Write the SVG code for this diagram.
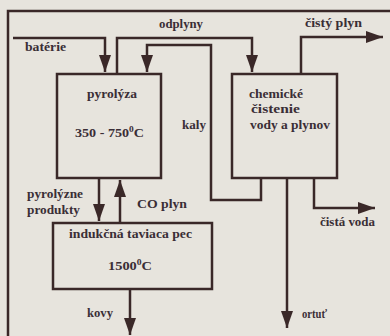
<svg xmlns="http://www.w3.org/2000/svg" width="390" height="336" viewBox="0 0 390 336">
<defs>
<marker id="ah" markerUnits="userSpaceOnUse" markerWidth="18" markerHeight="14" refX="17" refY="7" orient="auto">
<path d="M0,1 L17,7 L0,13 Z" fill="#3a2828"/>
</marker>
<style>
.ln{fill:none;stroke:#3a2828;stroke-width:2.5}
.bx{fill:none;stroke:#3a2828;stroke-width:2.5}
.t{font-family:"Liberation Serif","Times New Roman",serif;font-weight:bold;font-size:12px;fill:#3a2e36}
.sup{font-size:8px}
</style>
</defs>
<rect x="0" y="0" width="390" height="336" fill="#e7e4dd"/>
<g id="frame"><path class="ln" d="M8,336 V11 H390"/></g>
<g id="pyrolyza">
<rect class="bx" x="57" y="74" width="104" height="104"/>
<text class="t" x="87" y="98" textLength="50" lengthAdjust="spacingAndGlyphs">pyrolýza</text>
<text class="t" x="75" y="137" textLength="69" lengthAdjust="spacingAndGlyphs">350 - 750<tspan class="sup" dy="-5">0</tspan><tspan dy="5">C</tspan></text>
</g>
<g id="chemicke">
<rect class="bx" x="232" y="74" width="105" height="104"/>
<text class="t" x="249" y="98" textLength="54" lengthAdjust="spacingAndGlyphs">chemické</text>
<text class="t" x="251" y="113" textLength="49" lengthAdjust="spacingAndGlyphs">čistenie</text>
<text class="t" x="250" y="129" textLength="80" lengthAdjust="spacingAndGlyphs">vody a plynov</text>
</g>
<g id="indukcna">
<rect class="bx" x="53" y="223" width="159" height="66"/>
<text class="t" x="69" y="238" textLength="123" lengthAdjust="spacingAndGlyphs">indukčná taviaca pec</text>
<text class="t" x="108" y="270" textLength="44" lengthAdjust="spacingAndGlyphs">1500<tspan class="sup" dy="-5">0</tspan><tspan dy="5">C</tspan></text>
</g>
<g id="connectors">
<path class="ln" d="M13,38 H105 V72" marker-end="url(#ah)"/>
<path class="ln" d="M117,74 V38 H252 V72" marker-end="url(#ah)"/>
<path class="ln" d="M261,178 V200 H211 V45 H147 V72" marker-end="url(#ah)"/>
<path class="ln" d="M301,74 V37 H383" marker-end="url(#ah)"/>
<path class="ln" d="M314,178 V208 H375" marker-end="url(#ah)"/>
<path class="ln" d="M287,178 V328" marker-end="url(#ah)"/>
<path class="ln" d="M99,178 V221" marker-end="url(#ah)"/>
<path class="ln" d="M120,223 V180" marker-end="url(#ah)"/>
<path class="ln" d="M130,289 V335" marker-end="url(#ah)"/>
</g>
<g id="labels">
<text class="t" x="25" y="51" textLength="41" lengthAdjust="spacingAndGlyphs">batérie</text>
<text class="t" x="159" y="28" textLength="44" lengthAdjust="spacingAndGlyphs">odplyny</text>
<text class="t" x="182" y="129" textLength="24" lengthAdjust="spacingAndGlyphs">kaly</text>
<text class="t" x="305" y="27" textLength="57" lengthAdjust="spacingAndGlyphs">čistý plyn</text>
<text class="t" x="320" y="226" textLength="55" lengthAdjust="spacingAndGlyphs">čistá voda</text>
<text class="t" x="302" y="318" textLength="25" lengthAdjust="spacingAndGlyphs">ortuť</text>
<text class="t" x="27" y="198" textLength="56" lengthAdjust="spacingAndGlyphs">pyrolýzne</text>
<text class="t" x="27" y="214" textLength="53" lengthAdjust="spacingAndGlyphs">produkty</text>
<text class="t" x="137" y="208" textLength="50" lengthAdjust="spacingAndGlyphs">CO plyn</text>
<text class="t" x="87" y="317" textLength="26" lengthAdjust="spacingAndGlyphs">kovy</text>
</g>
</svg>
